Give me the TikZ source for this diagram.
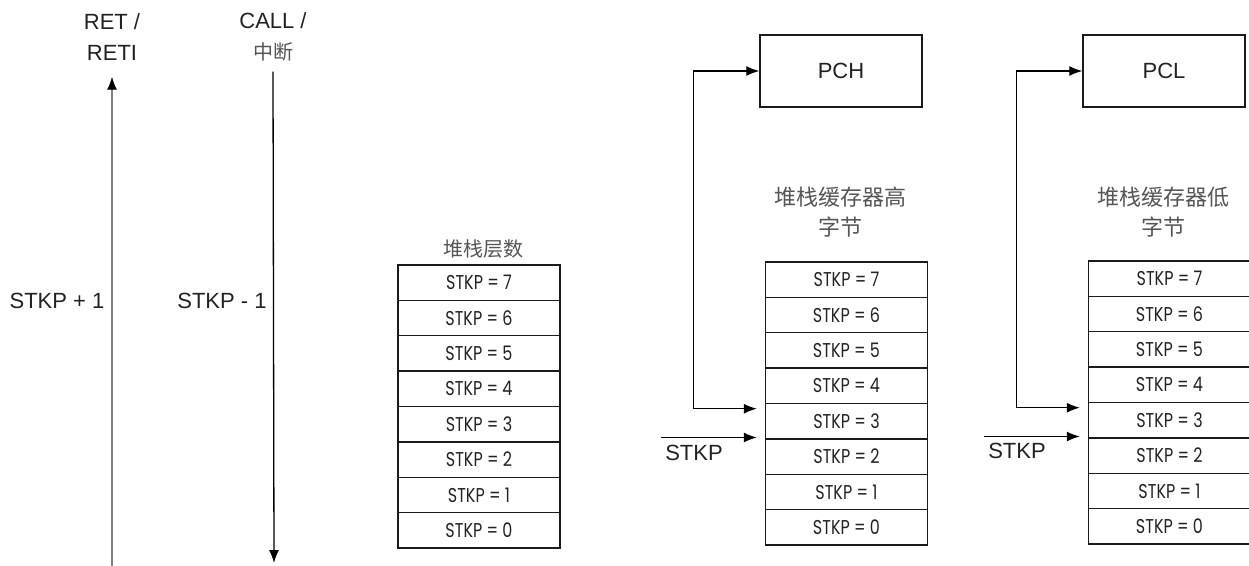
\documentclass[tikz,border=0pt]{standalone}
\usepackage{fontspec}
\setmainfont{Liberation Sans}
\newfontfamily\cjk{Noto Sans CJK SC}
\newfontfamily\cellfont[FakeStretch=0.8]{Poppins}
\usetikzlibrary{arrows.meta}
\definecolor{txt}{HTML}{222222}
\definecolor{cjkgray}{HTML}{555555}
\definecolor{rim}{HTML}{1A1A1A}
\begin{document}
\begin{tikzpicture}[
        x=1pt, y=-1pt,
        lbl/.style={text=txt, font=\fontsize{22}{31}\selectfont, align=center, inner sep=0pt},
        cjklbl/.style={text=cjkgray, font=\cjk\fontsize{20}{30}\selectfont, align=center, inner sep=0pt},
        cell/.style={draw=rim, line width=1.4pt, minimum width=162pt, minimum height=35.4pt, inner sep=0pt, text=txt, font=\cellfont\fontsize{20}{20}\selectfont},
        reg/.style={lbl, draw=rim, line width=1.4pt, minimum width=162pt, minimum height=72pt},
        link/.style={draw=black, line width=1.3pt, {Latex[length=13pt,width=10pt]}-{Latex[length=13pt,width=10pt]}},
        push/.style={draw=black, line width=1.3pt, -{Latex[length=13pt,width=10pt,color=black]}},
    ]
    \useasboundingbox[fill=white] (0,0) rectangle (1249,565);
    % direction of the pointer
    \node[lbl] (ret) at (112,37) {RET /\\RETI};
    \node[lbl] (call) at (273,37) {CALL /\\{\cjk\color{cjkgray}\fontsize{20}{31}\selectfont 中断}};
    \node[lbl] (inc) at (57,301) {STKP + 1};
    \node[lbl] (dec) at (222,301) {STKP - 1};
    \coordinate (retfoot) at (112,566);
    \coordinate (callfoot) at (274,563);
    \draw[push, draw=gray] (retfoot) -- ([yshift=-16pt]ret.south);
    \draw[push] ([yshift=-10pt]call.south) -- (callfoot);
    % stack levels
    \node[cjklbl] (lvtitle) at (483,249) {堆栈层数};
    \foreach \k in {0,...,7}
        \node[cell] (lv\k) at (479,{548-17.7-35.4*\k}) {STKP = \k};
    % high byte
    \node[reg] (pch) at (841,71) {PCH};
    \node[cjklbl, font=\cjk\fontsize{22}{30}\selectfont] (htitle) at (840,212) {堆栈缓存器高\\字节};
    \foreach \k in {0,...,7}
        \node[cell] (h\k) at (846.5,{545-17.7-35.4*\k}) {STKP = \k};
    \draw[link] ([xshift=-8pt,yshift=-6pt]h3.north west) -- ++(-63,0) |- (pch.west);
    \coordinate (hsp) at ([xshift=-104pt,yshift=2pt]h3.south west);
    \draw[push, shorten >=8pt] (hsp) -- (hsp -| h3.west);
    \node[lbl] (hlab) at (694,453) {STKP};
    % low byte
    \node[reg] (pcl) at (1164,71) {PCL};
    \node[cjklbl, font=\cjk\fontsize{22}{30}\selectfont] (ltitle) at (1163,212) {堆栈缓存器低\\字节};
    \foreach \k in {0,...,7}
        \node[cell] (l\k) at (1169.5,{544-17.7-35.4*\k}) {STKP = \k};
    \draw[link] ([xshift=-8pt,yshift=-6pt]l3.north west) -- ++(-63,0) |- (pcl.west);
    \coordinate (lsp) at ([xshift=-104pt,yshift=2pt]l3.south west);
    \draw[push, shorten >=8pt] (lsp) -- (lsp -| l3.west);
    \node[lbl] (llab) at (1017,451) {STKP};
\end{tikzpicture}
\end{document}
